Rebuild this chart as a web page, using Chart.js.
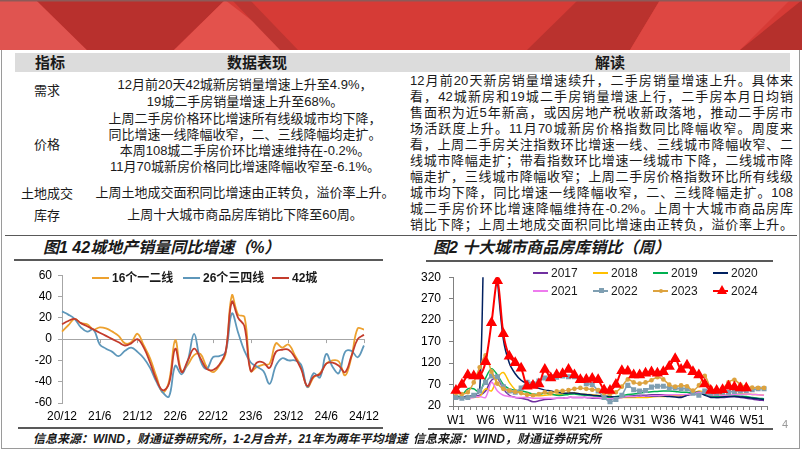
<!DOCTYPE html>
<html>
<head>
<meta charset="utf-8">
<script src="https://cdn.jsdelivr.net/npm/chart.js@4.4.1/dist/chart.umd.min.js"></script>
<style>
  body { margin: 0; width: 802px; height: 451px; position: relative; overflow: hidden; background: #fff;
         font-family: "Liberation Sans", Arial, "Noto Sans CJK SC", sans-serif; color: #1a1a1a; }
  .t { position: absolute; line-height: 16px; font-size: 13px; white-space: nowrap; }
  .c { text-align: center; }
  .j { position: absolute; left: 410px; width: 383px; line-height: 16px; font-size: 13px;
       text-align: justify; text-align-last: justify; }
  .h { position: absolute; top: 55px; line-height: 16px; font-size: 15px; font-weight: 700; text-align: center; }
  .ttl { position: absolute; top: 239px; font-size: 16px; line-height: 18px; font-weight: 700; font-style: italic; white-space: nowrap; }
  .rule { position: absolute; background: #595959; }
  .src { position: absolute; top: 431px; font-size: 12px; line-height: 16px; font-weight: 700; font-style: italic; white-space: nowrap; }
  .lg { position: absolute; font-size: 12px; line-height: 14px; white-space: nowrap; }
  .lg i { position: absolute; top: 6px; height: 2px; width: 17px; }
  .lg b { position: absolute; }
  canvas { position: absolute; }
</style>
</head>
<body>

<svg style="position:absolute;left:0;top:0" width="802" height="50">
  <rect x="0" y="0" width="802" height="50" fill="#D63B36"/>
  <polygon points="0,0 36,0 87,50 0,50" fill="#E05450"/>
  <polygon points="36,0 225,0 174,50 87,50" fill="#B8302D"/>
  <polygon points="225,0 290,50 174,50" fill="#E3524C"/>
  <polygon points="232,0 250,0 298,50 280,50" fill="#BC3531"/>
  <polygon points="527,50 578,0 660,0 630,50" fill="#BA322E"/>
  <polygon points="630,50 660,0 790,0 740,50" fill="#DE4742"/>
  <polygon points="740,50 802,0 802,50" fill="#B5302C"/>
  <rect x="0" y="0" width="802" height="1.5" fill="#8d5a58"/>
</svg>

<div style="position:absolute;left:1px;top:50px;width:797px;height:398px;border:1px solid #9a9a9a;border-top:none"></div>

<!-- table -->
<div style="position:absolute;left:15px;top:53px;width:775px;height:19px;background:#DCDCDC"></div>
<div class="h" style="left:20px;width:60px">指标</div>
<div class="h" style="left:197px;width:120px">数据表现</div>
<div class="h" style="left:570px;width:80px">解读</div>

<div class="t c" style="left:17px;width:60px;top:83px">需求</div>
<div class="t c" style="left:17px;width:60px;top:137px">价格</div>
<div class="t c" style="left:12px;width:70px;top:186px">土地成交</div>
<div class="t c" style="left:17px;width:60px;top:208px">库存</div>

<div class="t c" style="left:95px;width:300px;top:77px">12月前20天42城新房销量增速上升至4.9%，</div>
<div class="t c" style="left:95px;width:300px;top:94px">19城二手房销量增速上升至68%。</div>
<div class="t c" style="left:95px;width:300px;top:111px">上周二手房价格环比增速所有线级城市均下降，</div>
<div class="t c" style="left:95px;width:300px;top:127px">同比增速一线降幅收窄，二、三线降幅均走扩。</div>
<div class="t c" style="left:95px;width:300px;top:143px">本周108城二手房价环比增速维持在-0.2%。</div>
<div class="t c" style="left:95px;width:300px;top:159px">11月70城新房价格同比增速降幅收窄至-6.1%。</div>
<div class="t c" style="left:95px;width:300px;top:185px">上周土地成交面积同比增速由正转负，溢价率上升。</div>
<div class="t c" style="left:95px;width:300px;top:207px">上周十大城市商品房库销比下降至60周。</div>

<div class="j" style="top:73px">12月前20天新房销量增速续升，二手房销量增速上升。具体来</div>
<div class="j" style="top:89px">看，42城新房和19城二手房销量增速上行，二手房本月日均销</div>
<div class="j" style="top:105px">售面积为近5年新高，或因房地产税收新政落地，推动二手房市</div>
<div class="j" style="top:121px">场活跃度上升。11月70城新房价格指数同比降幅收窄。周度来</div>
<div class="j" style="top:137px">看，上周二手房关注指数环比增速一线、三线城市降幅收窄、二</div>
<div class="j" style="top:153px">线城市降幅走扩；带看指数环比增速一线城市下降，二线城市降</div>
<div class="j" style="top:169px">幅走扩，三线城市降幅收窄；上周二手房价格指数环比所有线级</div>
<div class="j" style="top:185px">城市均下降，同比增速一线降幅收窄，二、三线降幅走扩。108</div>
<div class="j" style="top:201px">城二手房价环比增速降幅维持在-0.2%。上周十大城市商品房库</div>
<div class="j" style="top:217px">销比下降；上周土地成交面积同比增速由正转负，溢价率上升。</div>

<div class="rule" style="left:5px;top:235px;width:792px;height:1px"></div>

<!-- chart titles and rules -->
<div class="ttl" style="left:43px">图1 42城地产销量同比增速（%）</div>
<div class="ttl" style="left:433px">图2 十大城市商品房库销比（周）</div>
<div class="rule" style="left:14px;top:259px;width:369px;height:1.5px"></div>
<div class="rule" style="left:426px;top:260px;width:347px;height:1.5px"></div>
<div class="rule" style="left:18px;top:427px;width:365px;height:2px"></div>
<div class="rule" style="left:428px;top:428px;width:345px;height:2px"></div>

<canvas id="c1" width="385" height="165" style="left:0;top:262px"></canvas>
<canvas id="c2" width="392" height="168" style="left:400px;top:262px"></canvas>

<!-- legends -->
<div class="lg" style="left:92px;top:271px"><i style="background:#EDA12F"></i><b style="left:20px">16个一二线</b></div>
<div class="lg" style="left:183px;top:271px"><i style="background:#5E97BA"></i><b style="left:20px">26个三四线</b></div>
<div class="lg" style="left:272px;top:271px"><i style="background:#C43C2C"></i><b style="left:20px">42城</b></div>

<div id="lg2"></div>

<div class="src" style="left:33px">信息来源：WIND，财通证券研究所，1-2月合并，21年为两年平均增速</div>
<div class="src" style="left:413px">信息来源：WIND，财通证券研究所</div>
<div style="position:absolute;left:782px;top:418px;font-size:11px;color:#999">4</div>

<script>
// ---- 图1 data ----
const monthLabels = ['20/12',
  '21/1','21/2','21/3','21/4','21/5','21/6','21/7','21/8','21/9','21/10','21/11','21/12',
  '22/1','22/2','22/3','22/4','22/5','22/6','22/7','22/8','22/9','22/10','22/11','22/12',
  '23/1','23/2','23/3','23/4','23/5','23/6','23/7','23/8','23/9','23/10','23/11','23/12',
  '24/1','24/2','24/3','24/4','24/5','24/6','24/7','24/8','24/9','24/10','24/11','24/12'];
const tier12 = [7,13,19,15,14,9,11,10,7,3,-4,-3,5,-6,-18,-35,-50,-40,-1,-30,-24,-15,-14,-26,-31,-25,-14,41,23,21,-30,-26,-24,-23,-4,-8,-5,-15,-26,-45,-36,-32,-23,-20,-21,-34,-17,10,9];
const tier34 = [26,23,19,11,7,9,-5,-9,-12,-16,-11,-8,-12,-18,-27,-40,-50,-54,-25,-33,-20,5,-20,-28,-17,-16,-12,24,6,-11,-22,-26,-30,-42,-25,-18,-20,-20,-24,-45,-32,-36,-14,-26,-32,-12,-11,-17,-6];
const city42 = [14,17,19,15,12,9,6,3,0,-3,-6,-4,0,-8,-22,-38,-48,-42,-9,-31,-20,-9,-18,-28,-29,-24,-12,35,20,12,-30,-22,-22,-27,-12,-10,-10,-17,-28,-44,-35,-33,-23,-22,-25,-31,-16,0,4];

// ---- 图2 data ----
const weekLabels = ['W1','W2','W3','W4','W5','W6','W7','W8','W9','W10','W11','W12','W13','W14','W15','W16','W17','W18',
  'W19','W20','W21','W22','W23','W24','W25','W26','W27','W28','W29','W30','W31','W32','W33','W34','W35','W36',
  'W37','W38','W39','W40','W41','W42','W43','W44','W45','W46','W47','W48','W49','W50','W51','W52','W53'];
const y2017 = [40,40,40,42,45,55,80,85,60,45,40,38,35,30,32,35,36,38,38,40,40,40,40,38,38,37,36,38,40,42,44,45,45,46,46,46,45,44,43,45,48,52,50,42,40,40,41,42,40,38,36,34,33];
const y2018 = [40,40,40,40,42,60,55,85,98,75,58,50,46,44,44,45,46,47,48,50,50,48,47,46,45,42,40,40,40,40,40,40,40,41,42,42,43,44,45,46,50,55,52,48,47,46,46,47,48,48,47,46,45];
const y2019 = [40,45,60,60,52,85,107,92,70,60,57,55,52,48,47,50,48,45,45,47,48,46,45,44,43,42,40,42,44,47,48,50,52,53,54,55,55,54,52,52,50,52,48,44,42,42,43,44,43,42,40,38,37];
const y2020 = [40,40,42,45,55,500,500,315,175,120,95,80,72,66,61,57,55,52,50,50,50,48,47,45,44,43,42,41,41,42,42,43,43,43,43,43,42,41,40,45,50,52,45,40,40,41,42,42,41,40,38,37,35];
const y2021 = [38,38,38,40,42,40,75,55,45,42,40,40,40,38,38,38,38,38,38,40,40,40,40,40,39,38,37,38,40,42,42,43,43,44,44,45,46,46,46,47,48,52,50,46,45,45,46,47,47,48,47,46,45];
const y2022 = [40,38,40,45,55,75,90,88,65,55,52,62,75,72,78,85,88,87,90,88,88,82,72,70,55,40,30,35,45,68,58,55,56,64,66,66,62,62,60,60,50,45,55,50,50,52,52,54,55,56,58,60,60];
const y2023 = [50,48,52,75,110,138,100,72,60,56,53,50,46,45,48,52,50,54,55,57,60,62,60,58,57,50,48,52,65,82,75,72,75,80,87,82,70,65,68,66,56,68,90,62,56,60,75,81,70,65,63,62,62];
const y2024 = [56,70,92,90,90,123,214,312,188,136,121,108,66,68,71,105,85,93,95,105,92,81,82,84,81,57,56,70,102,101,92,92,96,99,96,100,112,130,105,115,100,92,71,56,56,58,66,64,62,62];

const tickFont = { family: '"Liberation Sans", Arial, sans-serif', size: 12 };
const axisGray = '#A6A6A6';

// small tick marks on the zero line, every 6 months
const zeroTicks = {
  id: 'zeroTicks',
  beforeDatasetsDraw (chart) {
    const xs = chart.scales.x;
    const y0 = chart.scales.y.getPixelForValue(0);
    const ctx = chart.ctx;
    ctx.save();
    ctx.strokeStyle = axisGray;
    ctx.lineWidth = 1;
    for (let i = 0; i < monthLabels.length; i += 6) {
      const px = Math.round(xs.getPixelForValue(i)) + 0.5;
      ctx.beginPath();
      ctx.moveTo(px, y0);
      ctx.lineTo(px, y0 + 4);
      ctx.stroke();
    }
    ctx.restore();
  }
};

new Chart(document.getElementById('c1'), {
  type: 'line',
  data: {
    labels: monthLabels,
    datasets: [
      { label: '42城', data: city42, borderColor: '#C43C2C', order: 0 },
      { label: '26个三四线', data: tier34, borderColor: '#5E97BA', order: 1 },
      { label: '16个一二线', data: tier12, borderColor: '#EDA12F', order: 2 }
    ]
  },
  options: {
    responsive: false,
    animation: false,
    devicePixelRatio: 1,
    layout: { padding: { top: 11, right: 20, left: 0, bottom: 0 } },
    elements: { line: { borderWidth: 1.8, tension: 0.4 }, point: { radius: 0 } },
    plugins: { legend: { display: false }, tooltip: { enabled: false } },
    scales: {
      x: {
        offset: false,
        grid: { display: false, drawTicks: false },
        border: { display: false },
        ticks: {
          autoSkip: false, maxRotation: 0, padding: 6, font: tickFont, color: '#000',
          callback: (v, i) => (i % 6 === 0 ? monthLabels[i] : '')
        },
        afterFit: (s) => { s.height = 24; }
      },
      y: {
        min: -60, max: 60,
        ticks: { stepSize: 20, padding: 6, font: tickFont, color: '#000' },
        grid: {
          color: (c) => (c.tick && c.tick.value === 0 ? axisGray : 'transparent'),
          tickColor: axisGray, tickLength: 4
        },
        border: { color: axisGray },
        afterFit: (s) => { s.width = 62; }
      }
    }
  },
  plugins: [zeroTicks]
});

const series2 = [
  { label: '2017', data: y2017, color: '#7030A0', style: false },
  { label: '2018', data: y2018, color: '#FFC000', style: false },
  { label: '2019', data: y2019, color: '#00B050', style: false },
  { label: '2020', data: y2020, color: '#002060', style: false },
  { label: '2021', data: y2021, color: '#EE7BEE', style: false },
  { label: '2022', data: y2022, color: '#7F9FB2', style: 'rect', r: 2.5 },
  { label: '2023', data: y2023, color: '#DDA33F', style: 'circle', r: 1.6 },
  { label: '2024', data: y2024, color: '#FF0000', style: 'triangle', r: 4.5 }
];

new Chart(document.getElementById('c2'), {
  type: 'line',
  data: {
    labels: weekLabels,
    datasets: series2.map((s, k) => ({
      label: s.label,
      data: s.data,
      borderColor: s.color,
      backgroundColor: s.color,
      borderWidth: s.label === '2024' ? 2 : 1.5,
      pointStyle: s.style || 'circle',
      pointRadius: s.style ? s.r : 0,
      order: series2.length - k
    }))
  },
  options: {
    responsive: false,
    animation: false,
    devicePixelRatio: 1,
    layout: { padding: { top: 9, right: 25, left: 0, bottom: 0 } },
    elements: { line: { tension: 0.3 } },
    plugins: { legend: { display: false }, tooltip: { enabled: false } },
    scales: {
      x: {
        offset: true,
        grid: { drawOnChartArea: false, tickLength: 4, color: '#808080', offset: true },
        border: { color: '#808080' },
        ticks: {
          autoSkip: false, maxRotation: 0, padding: 3, font: tickFont, color: '#000',
          callback: (v, i) => (i % 5 === 0 ? weekLabels[i] : '')
        },
        afterFit: (s) => { s.height = 24; }
      },
      y: {
        min: 20, max: 320,
        ticks: { stepSize: 50, padding: 8, font: tickFont, color: '#000' },
        grid: { drawOnChartArea: false, tickLength: 4, color: '#808080' },
        border: { color: '#808080' },
        afterFit: (s) => { s.width = 53; }
      }
    }
  }
});

// legend of 图2, 4 columns x 2 rows
(function () {
  const box = document.getElementById('lg2');
  const colX = [533, 593, 653, 713];
  const rowY = [266, 284];
  series2.forEach((s, k) => {
    const d = document.createElement('div');
    d.className = 'lg';
    d.style.left = colX[k % 4] + 'px';
    d.style.top = rowY[Math.floor(k / 4)] + 'px';
    let mark = '';
    if (s.style === 'rect') {
      mark = '<span style="position:absolute;left:6px;top:4px;width:5px;height:5px;background:' + s.color + '"></span>';
    } else if (s.style === 'circle') {
      mark = '<span style="position:absolute;left:6px;top:5px;width:4px;height:4px;border-radius:2px;background:' + s.color + '"></span>';
    } else if (s.style === 'triangle') {
      mark = '<span style="position:absolute;left:4px;top:1px;width:0;height:0;border-left:5px solid transparent;border-right:5px solid transparent;border-bottom:9px solid ' + s.color + '"></span>';
    }
    d.innerHTML = '<i style="width:15px;background:' + s.color + '"></i>' + mark +
      '<b style="left:18px;font-weight:400">' + s.label + '</b>';
    box.appendChild(d);
  });
}());
</script>
</body>
</html>
